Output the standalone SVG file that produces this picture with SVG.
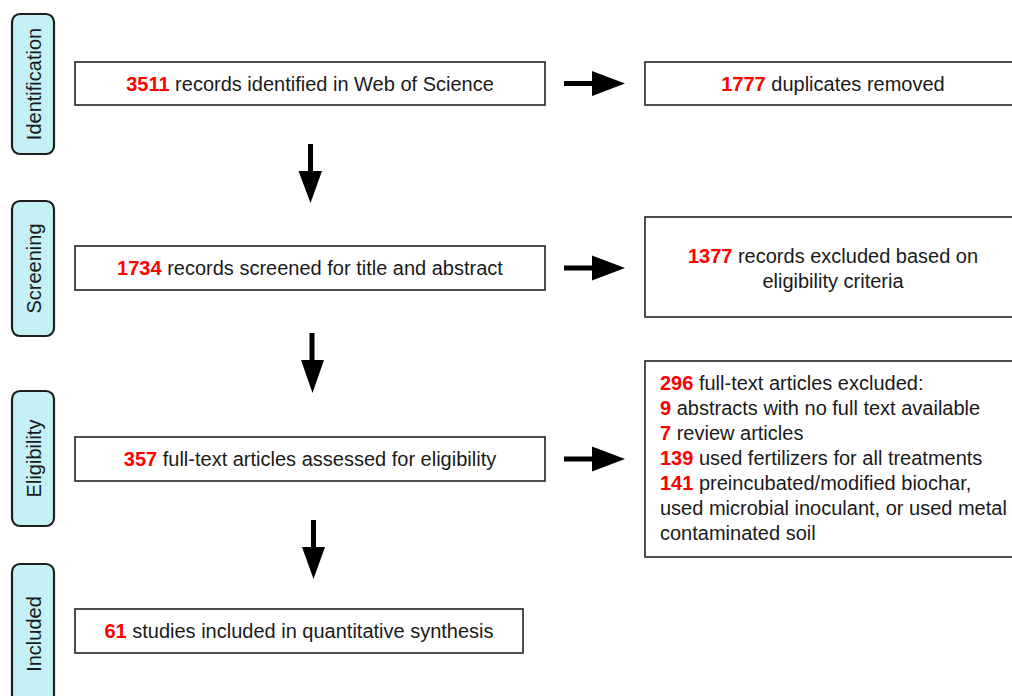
<svg xmlns="http://www.w3.org/2000/svg" width="1012" height="696" viewBox="0 0 1012 696">
<style>
.stage rect{fill:#c4f1f6;stroke:#1e1e1e;stroke-width:2.2}
.stage text{font-family:"Liberation Sans",Arial,sans-serif;font-size:20px;fill:#1a1a1a;text-anchor:middle}
.box rect{fill:#fff;stroke:#222;stroke-width:1.6}
.box text{font-family:"Liberation Sans",Arial,sans-serif;font-size:20px;fill:#1a1a1a}
.n{fill:#ff0000;font-weight:bold}
.arr{fill:#000}
</style>
<rect width="1012" height="696" fill="#fff"/>
<g id="stage-identification" class="stage">
<rect x="12" y="14" width="42" height="140" rx="8"/>
<text transform="translate(41,84) rotate(-90)">Identification</text>
</g>
<g id="stage-screening" class="stage">
<rect x="12" y="201" width="42" height="135" rx="8"/>
<text transform="translate(41,268.5) rotate(-90)">Screening</text>
</g>
<g id="stage-eligibility" class="stage">
<rect x="12" y="391" width="42" height="135" rx="8"/>
<text transform="translate(41,458.5) rotate(-90)">Eligibility</text>
</g>
<g id="stage-included" class="stage">
<rect x="12" y="564" width="42" height="145" rx="8"/>
<text transform="translate(41,634) rotate(-90)">Included</text>
</g>
<g id="box-identified" class="box">
<rect x="75" y="62" width="470" height="43"/>
<text x="310" y="91" text-anchor="middle"><tspan class="n">3511</tspan> records identified in Web of Science</text>
</g>
<g id="box-duplicates" class="box">
<rect x="645" y="62" width="377" height="43"/>
<text x="833" y="91" text-anchor="middle"><tspan class="n">1777</tspan> duplicates removed</text>
</g>
<g id="box-screened" class="box">
<rect x="75" y="246" width="470" height="44"/>
<text x="310" y="275" text-anchor="middle"><tspan class="n">1734</tspan> records screened for title and abstract</text>
</g>
<g id="box-excluded-records" class="box">
<rect x="645" y="217" width="377" height="100"/>
<text x="833" y="263" text-anchor="middle"><tspan class="n">1377</tspan> records excluded based on</text>
<text x="833" y="288" text-anchor="middle">eligibility criteria</text>
</g>
<g id="box-assessed" class="box">
<rect x="75" y="437" width="470" height="44"/>
<text x="310" y="466" text-anchor="middle"><tspan class="n">357</tspan> full-text articles assessed for eligibility</text>
</g>
<g id="box-excluded-articles" class="box">
<rect x="645" y="361" width="377" height="196"/>
<text x="660" y="390"><tspan class="n">296</tspan> full-text articles excluded:</text>
<text x="660" y="415"><tspan class="n">9</tspan> abstracts with no full text available</text>
<text x="660" y="440"><tspan class="n">7</tspan> review articles</text>
<text x="660" y="465"><tspan class="n">139</tspan> used fertilizers for all treatments</text>
<text x="660" y="490"><tspan class="n">141</tspan> preincubated/modified biochar,</text>
<text x="660" y="515">used microbial inoculant, or used metal</text>
<text x="660" y="540">contaminated soil</text>
</g>
<g id="box-included" class="box">
<rect x="75" y="609" width="448" height="44"/>
<text x="299" y="638" text-anchor="middle"><tspan class="n">61</tspan> studies included in quantitative synthesis</text>
</g>
<g id="connectors" class="arr">
<rect x="564" y="81" width="30" height="5"/>
<polygon points="592,71 625,83.5 592,96"/>
<rect x="564" y="265.5" width="30" height="5"/>
<polygon points="592,255.5 625,268 592,280.5"/>
<rect x="564" y="456.5" width="30" height="5"/>
<polygon points="592,446.5 625,459 592,471.5"/>
<rect x="308" y="144" width="5" height="28"/>
<polygon points="298.5,171 322,171 310.5,203"/>
<rect x="309.5" y="333" width="5" height="28"/>
<polygon points="301,360 324,360 312.5,393"/>
<rect x="311" y="520" width="5" height="28"/>
<polygon points="302,547 325,547 313.5,579"/>
</g>
</svg>
